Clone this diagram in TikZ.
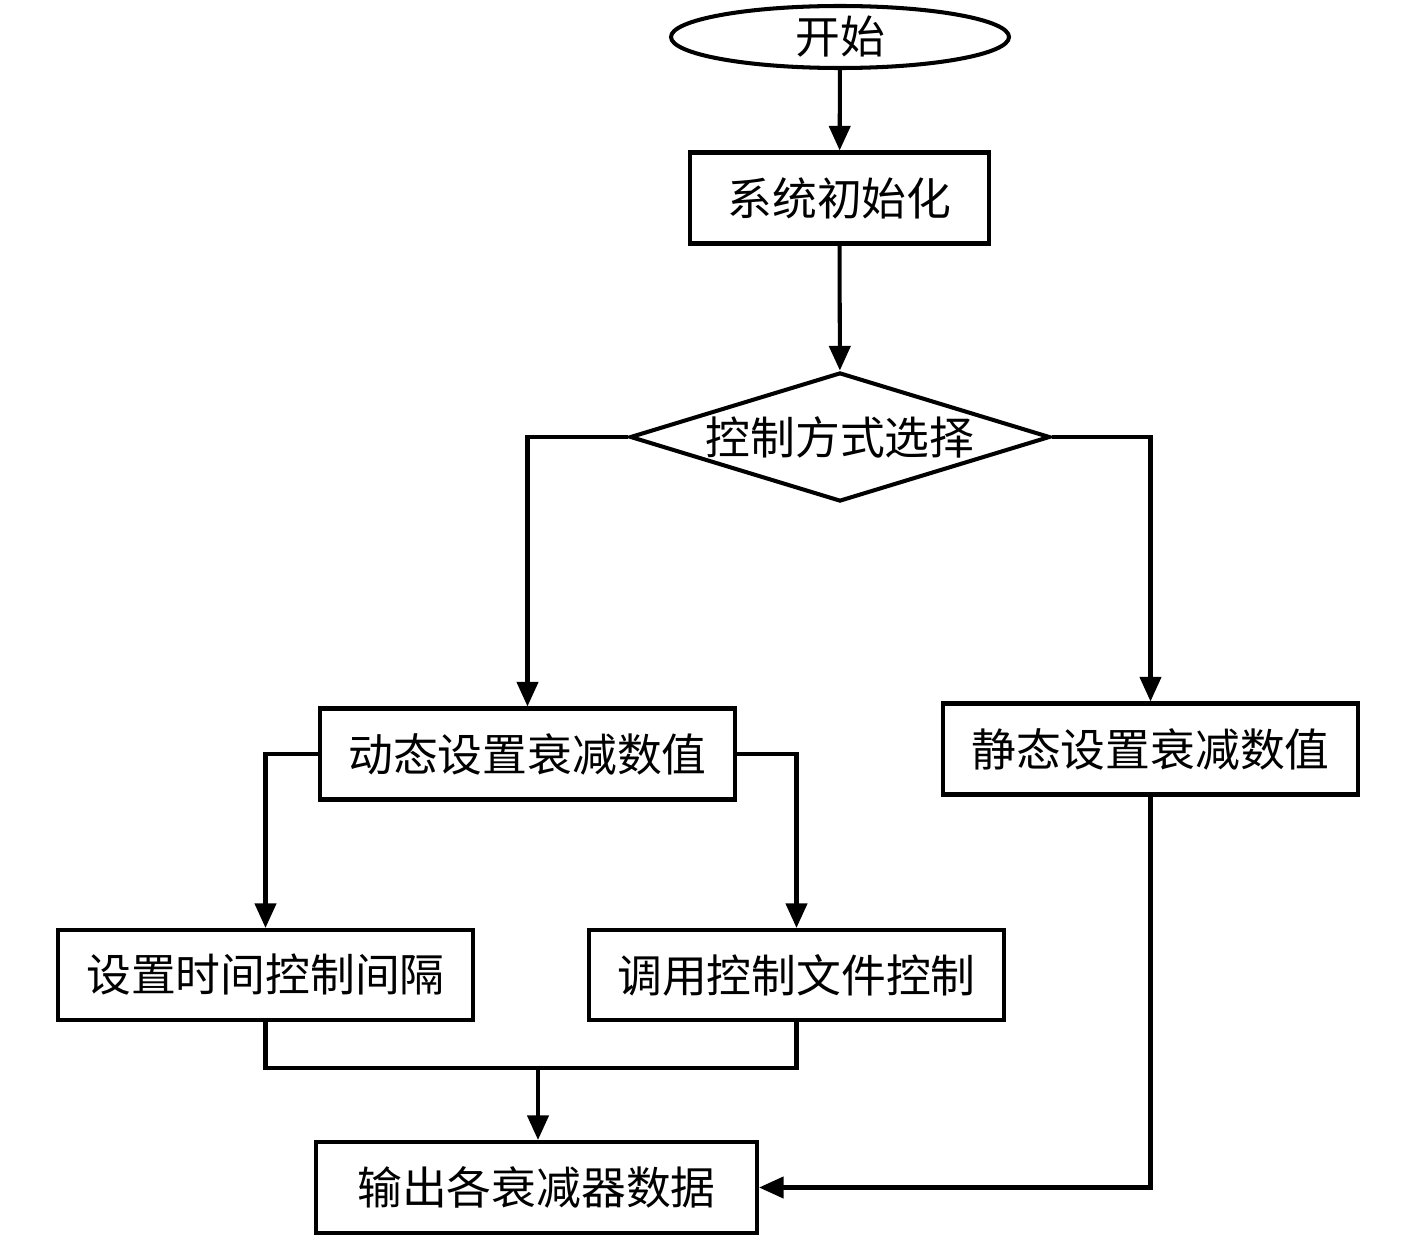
\documentclass[tikz,border=0pt]{standalone}
\usepackage{fontspec}
\newfontfamily\cjk{Noto Sans CJK SC}
\usetikzlibrary{shapes.geometric,arrows.meta}
\begin{document}
\begin{tikzpicture}[line width=2.3pt,
	box/.style={draw,rectangle,minimum width=8.3cm,minimum height=1.82cm,font=\cjk\fontsize{25.5}{30}\selectfont},
	decide/.style={draw,diamond,aspect=3.25,inner sep=0pt,minimum width=8.4cm,minimum height=2.58cm,font=\cjk\fontsize{25.5}{30}\selectfont},
	arr/.style={-{Triangle[length=14pt,width=12pt]}}]
		\useasboundingbox (0,0) rectangle (28.34,-24.8);
		\node[draw,ellipse,minimum width=6.76cm,minimum height=1.24cm,inner sep=0pt,font=\cjk\fontsize{25.5}{30}\selectfont] (start) at (16.8,-0.74) {开始};
		\node[box,minimum width=5.98cm] (init) at (16.79,-3.96) {系统初始化};
		\node[decide] (choice) at (16.8,-8.74) {控制方式选择};
		\node[box] (dyn) at (10.55,-15.08) {动态设置衰减数值};
		\node[box] (stat) at (23.01,-14.98) {静态设置衰减数值};
		\node[box,minimum height=1.8cm] (time) at (5.31,-19.5) {设置时间控制间隔};
		\node[box,minimum height=1.8cm] (file) at (15.93,-19.5) {调用控制文件控制};
		\node[box,minimum width=8.82cm] (out) at (10.73,-23.75) {输出各衰减器数据};
		\coordinate (merge) at (10.76,-21.36);
		\draw[arr] (start)--(init);
		\draw[arr] (init)--(choice);
		\draw[arr] (choice.west) -| (dyn.north);
		\draw[arr] (choice.east) -| (stat.north);
		\draw[arr] (dyn.west) -| (time.north);
		\draw[arr] (dyn.east) -| (file.north);
		\draw (time.south) |- (merge) -| (file.south);
		\draw[arr] (merge)--(out.north -| merge);
		\draw[arr] (stat.south) |- (out.east);
		\end{tikzpicture}
\end{document}
